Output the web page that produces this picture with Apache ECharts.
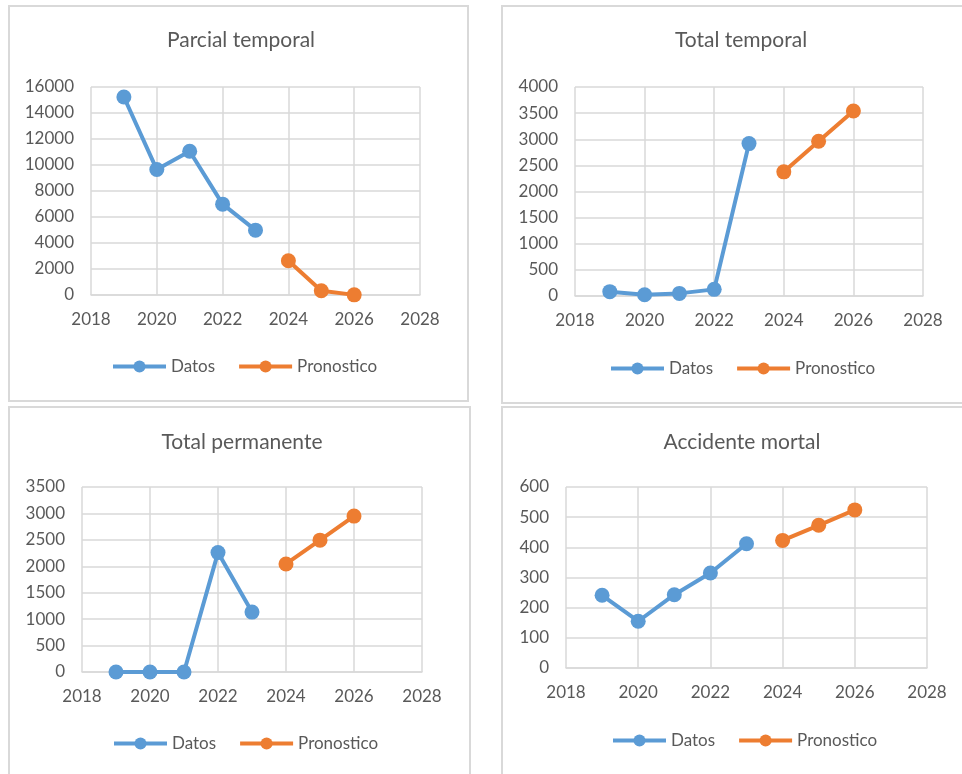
<!DOCTYPE html>
<html>
<head>
<meta charset="utf-8">
<script src="https://cdn.jsdelivr.net/npm/echarts@6/dist/echarts.min.js"></script>
<style>
  html, body { margin: 0; padding: 0; background: #fff; }
  #main { width: 962px; height: 774px; }
</style>
</head>
<body>
<div id="main"></div>
<script>
// datos
const years = [2019, 2020, 2021, 2022, 2023]
const forecastYears = [2024, 2025, 2026]

const titles = ['Parcial temporal', 'Total temporal', 'Total permanente', 'Accidente mortal']

const parcialDatos = [15230, 9650, 11060, 6990, 4990]
const parcialPron = [2640, 330, 10]
const totalTempDatos = [83, 25, 50, 127, 2917]
const totalTempPron = [2376, 2962, 3541]
const totalPermDatos = [0, 0, 0, 2259, 1133]
const totalPermPron = [2044, 2494, 2949]
const mortalDatos = [241, 155, 243, 315, 412]
const mortalPron = [423, 473, 524]

const yMax = [16000, 4000, 3500, 600]
const yStep = [2000, 500, 500, 100]

const datos = [parcialDatos, totalTempDatos, totalPermDatos, mortalDatos]
const pron = [parcialPron, totalTempPron, totalPermPron, mortalPron]

// posiciones de cada panel
const grids = [
  { left: 91, top: 87, width: 329, height: 208 },
  { left: 575, top: 87, width: 348, height: 209 },
  { left: 82, top: 487, width: 340, height: 185 },
  { left: 566, top: 487, width: 361, height: 181 }
]
const titlePos = [[236, 25], [736, 25], [237, 427], [737, 427]]
const legendPos = [[111, 358], [609, 360], [112, 735], [611, 732]]
const boxes = [
  [9, 6, 459, 395],
  [502, 6, 500, 397],
  [9, 407, 461, 400],
  [502, 407, 500, 400]
]

const font = 'Lato, "Open Sans", sans-serif'
const textColor = '#595959'
const gridColor = '#D9D9D9'
const blue = '#5B9BD5'
const orange = '#ED7D31'

const pairs = (xs, ys) => xs.map((x, i) => [x, ys[i]])

const chart = echarts.init(document.getElementById('main'))

const option = {
  backgroundColor: '#fff',
  animation: false,
  textStyle: { fontFamily: font },
  title: titles.map((t, i) => ({
    text: t,
    left: titlePos[i][0],
    top: titlePos[i][1],
    textAlign: 'center',
    textStyle: { fontFamily: font, fontSize: 21, fontWeight: 'normal', color: textColor }
  })),
  legend: legendPos.map((p) => ({
    data: ['Datos', 'Pronostico'],
    left: p[0],
    top: p[1],
    padding: 0,
    itemWidth: 53,
    itemHeight: 15,
    itemGap: 22,
    selectedMode: false,
    lineStyle: { width: 4 },
    textStyle: { fontFamily: font, fontSize: 17, color: textColor }
  })),
  grid: grids,
  xAxis: grids.map((g, i) => ({
    type: 'value',
    gridIndex: i,
    min: 2018,
    max: 2028,
    interval: 2,
    axisLine: { show: true, lineStyle: { color: gridColor, width: 1.5 } },
    axisTick: { show: false },
    axisLabel: { color: textColor, fontSize: 17, margin: 16, fontFamily: font, formatter: (v) => String(v) },
    splitLine: { show: true, lineStyle: { color: gridColor, width: 1.5 } }
  })),
  yAxis: grids.map((g, i) => ({
    type: 'value',
    gridIndex: i,
    min: 0,
    max: yMax[i],
    interval: yStep[i],
    axisLine: { show: false },
    axisTick: { show: false },
    axisLabel: { color: textColor, fontSize: 17, margin: 17, fontFamily: font, formatter: (v) => String(v) },
    splitLine: { show: true, lineStyle: { color: gridColor, width: 1.5 } }
  })),
  series: [],
  graphic: boxes.map((b) => ({
    type: 'rect',
    shape: { x: b[0], y: b[1], width: b[2], height: b[3] },
    style: { fill: 'none', stroke: gridColor, lineWidth: 2 },
    silent: true
  }))
}

for (let i = 0; i < 4; i++) {
  option.series.push({
    name: 'Datos',
    type: 'line',
    xAxisIndex: i,
    yAxisIndex: i,
    data: pairs(years, datos[i]),
    symbol: 'circle',
    symbolSize: 15,
    color: blue,
    itemStyle: { color: blue },
    lineStyle: { color: blue, width: 4 }
  })
  option.series.push({
    name: 'Pronostico',
    type: 'line',
    xAxisIndex: i,
    yAxisIndex: i,
    data: pairs(forecastYears, pron[i]),
    symbol: 'circle',
    symbolSize: 15,
    color: orange,
    itemStyle: { color: orange },
    lineStyle: { color: orange, width: 4 }
  })
}

chart.setOption(option)
</script>
</body>
</html>
